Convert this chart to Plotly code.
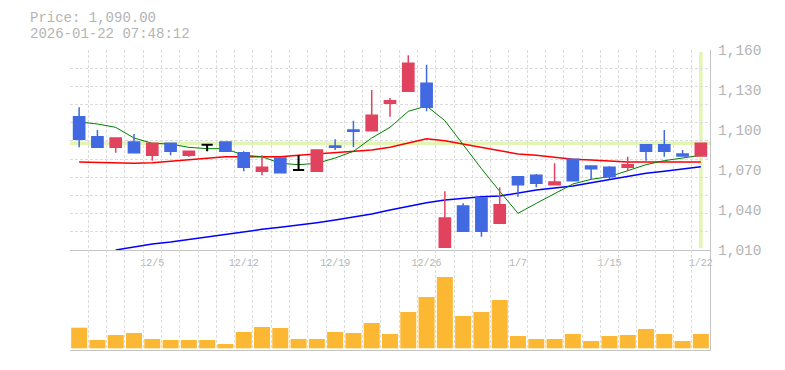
import plotly.graph_objects as go

# ---------------- data ----------------
dates = ["12/1", "12/2", "12/3", "12/4", "12/5", "12/8", "12/9", "12/10", "12/11", "12/12",
         "12/15", "12/16", "12/17", "12/18", "12/19", "12/22", "12/23", "12/24", "12/25", "12/26",
         "12/29", "12/30", "1/5", "1/6", "1/7", "1/8", "1/9", "1/13", "1/14", "1/15",
         "1/16", "1/19", "1/20", "1/21", "1/22"]

opens = [1110, 1095, 1087, 1091, 1081, 1090, 1081, 1089, 1091, 1083,
         1069, 1079, 1070, 1069, 1088, 1100, 1099.5, 1120, 1129, 1135,
         1012, 1043, 1049, 1030, 1065, 1066, 1059, 1078, 1073, 1072,
         1072, 1089, 1089, 1082, 1080.5]
highs = [1117, 1100, 1094, 1097, 1090, 1090, 1084, 1089, 1091, 1084,
         1081, 1079, 1081, 1085, 1093, 1107, 1130, 1124, 1156, 1149,
         1054, 1045, 1049, 1057, 1065, 1067, 1075, 1078, 1073, 1073,
         1080, 1089, 1100, 1085, 1090]
lows = [1087, 1087, 1083, 1083, 1077, 1081, 1080, 1084, 1084, 1069,
        1066, 1068, 1070, 1069, 1085, 1087, 1099, 1110, 1129, 1114,
        1012, 1024, 1020, 1030, 1050, 1057, 1059, 1062, 1063, 1063,
        1069, 1077, 1080, 1080, 1080.5]
closes = [1093, 1087, 1094, 1083, 1090, 1084, 1084, 1089, 1084, 1072,
          1072, 1068, 1070, 1085, 1087, 1099, 1111, 1122, 1150, 1117,
          1034, 1024, 1024, 1044, 1059, 1060, 1061, 1062, 1071, 1065,
          1074, 1084, 1084, 1080.5, 1090]

ma_short = [1106, 1104.5, 1102, 1094, 1090, 1089.5, 1087, 1086, 1086, 1081,
            1080, 1075, 1074, 1075, 1079, 1084, 1094, 1102, 1114, 1118,
            1107, 1089, 1071, 1054, 1037.5, 1045, 1052.5, 1059.5, 1063, 1065,
            1069.5, 1074, 1077, 1079, 1081]
ma_mid = [1076, 1075.5, 1075, 1075, 1075.5, 1076.5, 1077.5, 1078.5, 1080, 1080,
          1080, 1080, 1081, 1082, 1082.5, 1084, 1085, 1087, 1090, 1093.5,
          1092, 1089.5, 1087, 1084.5, 1082, 1081, 1079.5, 1078, 1077.5, 1076.5,
          1076, 1076, 1076, 1076, 1076]
ma_long = [None, None, 1010, 1012.5, 1014.5, 1016, 1018, 1020, 1022, 1024,
           1025.5, 1027, 1028.5, 1030.5, 1032.5, 1034.5, 1037, 1040, 1043, 1045.5,
           1047.5, 1049, 1050, 1050.5, 1053, 1055, 1056.5, 1058, 1060.5, 1063,
           1065, 1067.5, 1069, 1070.5, 1072.5]

volumes = [6200, 2500, 4000, 4600, 2800, 2500, 2500, 2500, 1300, 4900,
           6400, 6100, 2800, 2800, 4900, 4600, 7600, 4300, 10900, 15400,
           21400, 9700, 10900, 14500, 3700, 2800, 2800, 4300, 2200, 3700,
           4000, 5800, 4300, 2200, 4300]

tick_labels = ["12/5", "12/12", "12/19", "12/26", "1/7", "1/15", "1/22"]
price_ticks = [1010, 1040, 1070, 1100, 1130, 1160]
timestamp = "2026-01-22 07:48:12"

# ---------------- styles ----------------
FONT = "Liberation Mono"
TXT = "#b4b4b4"
GRID = "#dcdcdc"
AXL = "#c4c4c4"
UP = "#e1435f"
DOWN = "#4169e1"
HL = "#e3f5b2"
DASH = "3px,2px"

n = len(dates)
x = list(range(n))
pmin, pmax = price_ticks[0], price_ticks[-1]
grid_y = [pmin + k * (pmax - pmin) / 11 for k in range(12)]

doji = [i for i in x if opens[i] == closes[i]]
body = [i for i in x if opens[i] != closes[i]]

fig = go.Figure()

# moving averages (behind candles)
fig.add_trace(go.Scatter(x=x, y=ma_long, mode="lines", line=dict(color="#0000ff", width=1.5),
                         xaxis="x", yaxis="y", hoverinfo="skip", showlegend=False))
fig.add_trace(go.Scatter(x=x, y=ma_mid, mode="lines", line=dict(color="#ff0000", width=1.5),
                         xaxis="x", yaxis="y", hoverinfo="skip", showlegend=False))
fig.add_trace(go.Scatter(x=x, y=ma_short, mode="lines", line=dict(color="#008000", width=1),
                         xaxis="x", yaxis="y", hoverinfo="skip", showlegend=False))

# candles
fig.add_trace(go.Candlestick(
    x=[x[i] for i in body], open=[opens[i] for i in body], high=[highs[i] for i in body],
    low=[lows[i] for i in body], close=[closes[i] for i in body],
    increasing=dict(line=dict(color=UP, width=1.5), fillcolor=UP),
    decreasing=dict(line=dict(color=DOWN, width=1.5), fillcolor=DOWN),
    xaxis="x", yaxis="y3", hoverinfo="skip", showlegend=False))
fig.add_trace(go.Candlestick(
    x=[x[i] for i in doji], open=[opens[i] for i in doji], high=[highs[i] for i in doji],
    low=[lows[i] for i in doji], close=[closes[i] for i in doji],
    increasing=dict(line=dict(color="#000000", width=2), fillcolor="#000000"),
    decreasing=dict(line=dict(color="#000000", width=2), fillcolor="#000000"),
    xaxis="x", yaxis="y3", hoverinfo="skip", showlegend=False))

# volume
fig.add_trace(go.Bar(x=x, y=volumes, marker=dict(color="#fdb833", line=dict(width=0)),
                     xaxis="x2", yaxis="y2", hoverinfo="skip", showlegend=False))

minor_x = dict(tickmode="array", tickvals=[i - 0.5 for i in x], showgrid=True,
               gridcolor=GRID, griddash=DASH, gridwidth=1, ticks="")

# the page body has an 8px default margin, so the figure is 8px smaller
fig.update_layout(
    width=777, height=362, autosize=False,
    margin=dict(l=62, r=75, t=42, b=20, pad=0),
    paper_bgcolor="white", plot_bgcolor="white",
    font=dict(family=FONT, color=TXT),
    boxgap=0.125, bargap=0.125,
    showlegend=False,
    xaxis=dict(domain=[0, 1], anchor="y", range=[-0.5, n - 0.5],
               tickmode="array", tickvals=[dates.index(t) for t in tick_labels], ticktext=tick_labels,
               tickfont=dict(size=10, color=TXT, family=FONT), ticks="", ticklabelstandoff=3,
               showgrid=False, zeroline=False, showline=True, linecolor=AXL, linewidth=1,
               minor=minor_x, rangeslider=dict(visible=False), fixedrange=True),
    yaxis=dict(domain=[1 / 3, 1], anchor="x", range=[pmin, pmax], side="right",
               tickmode="array", tickvals=grid_y, showticklabels=False, ticks="",
               showgrid=True, gridcolor=GRID, griddash=DASH, gridwidth=1,
               zeroline=False, showline=True, linecolor=AXL, linewidth=1, fixedrange=True),
    yaxis3=dict(overlaying="y", anchor="x", range=[pmin, pmax], side="right",
                tickmode="array", tickvals=price_ticks, ticktext=[f"{v:,}" for v in price_ticks],
                tickfont=dict(size=14.5, color=TXT, family=FONT), ticks="", ticklabelstandoff=7,
                showgrid=False, zeroline=False, showline=False, fixedrange=True),
    xaxis2=dict(domain=[0, 1], anchor="y2", range=[-0.5, n - 0.5], matches="x",
                showticklabels=False, ticks="", showgrid=False, zeroline=False,
                showline=True, linecolor=AXL, linewidth=1, minor=minor_x, fixedrange=True),
    yaxis2=dict(domain=[0, 1 / 3], anchor="x2", range=[-500, 29500], side="right",
                showticklabels=False, ticks="", showgrid=False, zeroline=False,
                showline=True, linecolor=AXL, linewidth=1, fixedrange=True),
    shapes=[
        dict(type="line", xref="x domain", x0=0, x1=1, yref="y", y0=closes[-1], y1=closes[-1],
             line=dict(color=HL, width=3.5), layer="below"),
        dict(type="line", xref="x", x0=x[-1], x1=x[-1], yref="y domain", y0=0.01, y1=0.99,
             line=dict(color=HL, width=3.5), layer="below"),
    ],
    annotations=[
        dict(text=f"Price: {closes[-1]:,.2f}", xref="paper", yref="paper",
             x=-42 / 640, y=(300 + 32) / 300, xanchor="left", yanchor="middle",
             showarrow=False, font=dict(size=14, color=TXT, family=FONT)),
        dict(text=timestamp, xref="paper", yref="paper",
             x=-42 / 640, y=(300 + 16) / 300, xanchor="left", yanchor="middle",
             showarrow=False, font=dict(size=14, color=TXT, family=FONT)),
    ],
)

fig.write_html("out.html")
